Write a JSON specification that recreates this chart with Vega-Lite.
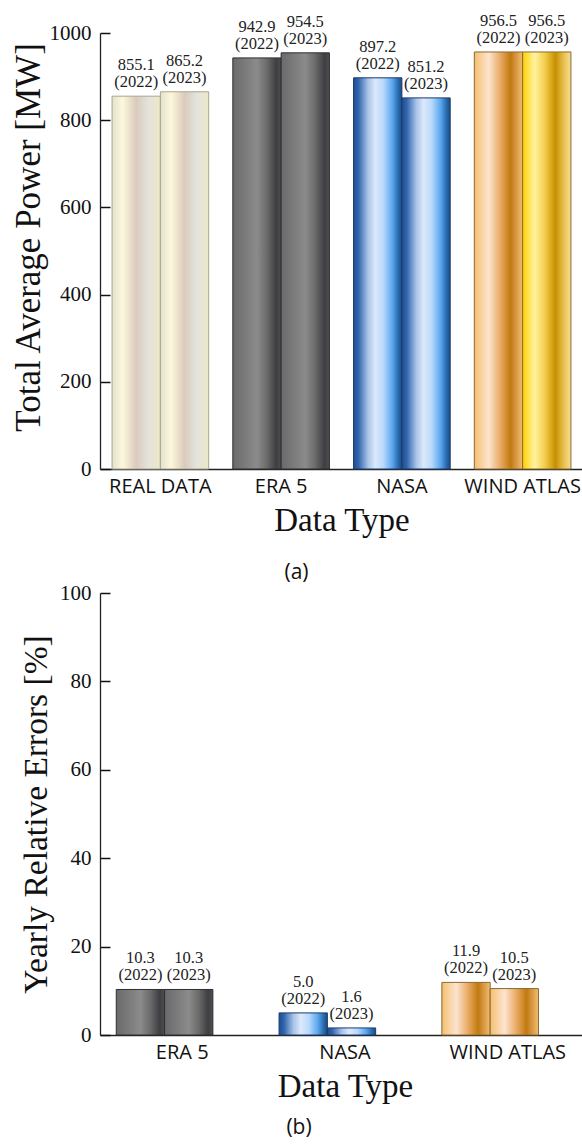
{
  "$schema": "https://vega.github.io/schema/vega-lite/v6.json",
  "padding": {"left": 10, "top": 12, "right": 0, "bottom": 0},
  "spacing": -1,
  "config": {
    "view": {"stroke": null},
    "axis": {"domainColor": "#222", "tickColor": "#111", "labelColor": "#111", "titleColor": "#111", "grid": false, "titleFontWeight": "normal", "domainWidth": 1.3, "tickWidth": 1.5},
    "title": {"color": "#111"}
  },
  "datasets": {
    "power": [
      {"type": "REAL DATA", "year": "2022", "value": 855.1, "label": "855.1\n(2022)"},
      {"type": "REAL DATA", "year": "2023", "value": 865.2, "label": "865.2\n(2023)"},
      {"type": "ERA 5", "year": "2022", "value": 942.9, "label": "942.9\n(2022)"},
      {"type": "ERA 5", "year": "2023", "value": 954.5, "label": "954.5\n(2023)"},
      {"type": "NASA", "year": "2022", "value": 897.2, "label": "897.2\n(2022)"},
      {"type": "NASA", "year": "2023", "value": 851.2, "label": "851.2\n(2023)"},
      {"type": "WIND ATLAS", "year": "2022", "value": 956.5, "label": "956.5\n(2022)"},
      {"type": "WIND ATLAS", "year": "2023", "value": 956.5, "label": "956.5\n(2023)"}
    ],
    "errors": [
      {"type": "ERA 5", "year": "2022", "value": 10.3, "label": "10.3\n(2022)"},
      {"type": "ERA 5", "year": "2023", "value": 10.3, "label": "10.3\n(2023)"},
      {"type": "NASA", "year": "2022", "value": 5.0, "label": "5.0\n(2022)"},
      {"type": "NASA", "year": "2023", "value": 1.6, "label": "1.6\n(2023)"},
      {"type": "WIND ATLAS", "year": "2022", "value": 11.9, "label": "11.9\n(2022)"},
      {"type": "WIND ATLAS", "year": "2023", "value": 10.5, "label": "10.5\n(2023)"}
    ]
  },
  "vconcat": [
    {
      "width": 483,
      "height": 436,
      "data": {"name": "power"},
      "title": {"text": "(a)", "orient": "bottom", "anchor": "middle", "frame": "group", "dx": -45, "font": "Open Sans", "fontSize": 21, "fontWeight": "normal", "offset": 25},
      "encoding": {
        "x": {"field": "type", "type": "nominal", "sort": ["REAL DATA", "ERA 5", "NASA", "WIND ATLAS"],
          "scale": {"paddingInner": 0.2, "paddingOuter": 0.1},
          "axis": {"title": "Data Type", "labelAngle": 0, "labelFont": "Open Sans", "labelFontSize": 20, "labelPadding": 7, "ticks": false, "titleFont": "Liberation Serif", "titleFontSize": 33, "titlePadding": 8}},
        "xOffset": {"field": "year", "type": "nominal", "scale": {"paddingInner": 0, "paddingOuter": 0}},
        "y": {"field": "value", "type": "quantitative", "scale": {"domain": [0, 1000]},
          "axis": {"title": "Total Average Power [MW]", "values": [0, 200, 400, 600, 800, 1000], "format": "d", "tickSize": -10, "labelFont": "Liberation Serif", "labelFontSize": 21, "labelPadding": 19, "titleFont": "Liberation Serif", "titleFontSize": 35, "titleX": -54, "titleY": 204}}
      },
      "layer": [
        {"transform": [{"filter": "datum.type === 'REAL DATA'"}],
         "mark": {"type": "bar", "stroke": "#aaa68c", "strokeWidth": 1,
           "color": {"gradient": "linear", "x1": 0, "y1": 0, "x2": 1, "y2": 0, "stops": [
             {"offset": 0, "color": "#e3e1d0"}, {"offset": 0.22, "color": "#fdf8dc"}, {"offset": 0.5, "color": "#d9cbbd"}, {"offset": 0.75, "color": "#e3e3dc"}, {"offset": 1, "color": "#ece8c8"}]}}},
        {"transform": [{"filter": "datum.type === 'ERA 5'"}],
         "mark": {"type": "bar", "stroke": "#2e2e30", "strokeWidth": 1,
           "color": {"gradient": "linear", "x1": 0, "y1": 0, "x2": 1, "y2": 0, "stops": [
             {"offset": 0, "color": "#6a6a6c"}, {"offset": 0.5, "color": "#8b8b8b"}, {"offset": 0.7, "color": "#6c6c6c"}, {"offset": 0.9, "color": "#3e3e42"}, {"offset": 1, "color": "#505052"}]}}},
        {"transform": [{"filter": "datum.type === 'NASA'"}],
         "mark": {"type": "bar", "stroke": "#1a3a6a", "strokeWidth": 1,
           "color": {"gradient": "linear", "x1": 0, "y1": 0, "x2": 1, "y2": 0, "stops": [
             {"offset": 0, "color": "#1c4e96"}, {"offset": 0.1, "color": "#3264ac"}, {"offset": 0.3, "color": "#a8c4e8"}, {"offset": 0.45, "color": "#dce9fb"}, {"offset": 0.62, "color": "#b8d8fb"}, {"offset": 0.8, "color": "#5aa8ee"}, {"offset": 0.92, "color": "#2a6cb0"}, {"offset": 1, "color": "#1a4c80"}]}}},
        {"transform": [{"filter": "datum.type === 'WIND ATLAS' && datum.year === '2022'"}],
         "mark": {"type": "bar", "stroke": "#8a6a30", "strokeWidth": 1,
           "color": {"gradient": "linear", "x1": 0, "y1": 0, "x2": 1, "y2": 0, "stops": [
             {"offset": 0, "color": "#f4c070"}, {"offset": 0.3, "color": "#fde4d0"}, {"offset": 0.55, "color": "#e8a860"}, {"offset": 0.75, "color": "#c07a10"}, {"offset": 0.9, "color": "#e0a050"}, {"offset": 1, "color": "#f0c070"}]}}},
        {"transform": [{"filter": "datum.type === 'WIND ATLAS' && datum.year === '2023'"}],
         "mark": {"type": "bar", "stroke": "#8a6a30", "strokeWidth": 1,
           "color": {"gradient": "linear", "x1": 0, "y1": 0, "x2": 1, "y2": 0, "stops": [
             {"offset": 0, "color": "#ffd000"}, {"offset": 0.25, "color": "#fff3a0"}, {"offset": 0.45, "color": "#f5d050"}, {"offset": 0.68, "color": "#c89000"}, {"offset": 0.85, "color": "#e8c050"}, {"offset": 1, "color": "#f8e090"}]}}},
        {"mark": {"type": "text", "font": "Liberation Serif", "fontSize": 16.5, "baseline": "bottom", "lineBreak": "\n", "lineHeight": 17, "dy": -23, "color": "#222"},
         "encoding": {"text": {"field": "label"}}}
      ]
    },
    {
      "width": 490,
      "height": 442,
      "data": {"name": "errors"},
      "title": {"text": "(b)", "orient": "bottom", "anchor": "middle", "frame": "group", "dx": -46, "font": "Open Sans", "fontSize": 21, "fontWeight": "normal", "offset": 14},
      "encoding": {
        "x": {"field": "type", "type": "nominal", "sort": ["ERA 5", "NASA", "WIND ATLAS"],
          "scale": {"paddingInner": 0.19, "paddingOuter": 0.1},
          "axis": {"title": "Data Type", "labelAngle": 0, "labelFont": "Open Sans", "labelFontSize": 20, "labelPadding": 7, "ticks": false, "titleFont": "Liberation Serif", "titleFontSize": 33, "titlePadding": 8}},
        "xOffset": {"field": "year", "type": "nominal", "scale": {"paddingInner": 0, "paddingOuter": 0}},
        "y": {"field": "value", "type": "quantitative", "scale": {"domain": [0, 100]},
          "axis": {"title": "Yearly Relative Errors [%]", "values": [0, 20, 40, 60, 80, 100], "format": "d", "tickSize": -10, "labelFont": "Liberation Serif", "labelFontSize": 21, "labelPadding": 19, "titleFont": "Liberation Serif", "titleFontSize": 33.5, "titleX": -47}}
      },
      "layer": [
        {"transform": [{"filter": "datum.type === 'ERA 5'"}],
         "mark": {"type": "bar", "stroke": "#2e2e30", "strokeWidth": 1,
           "color": {"gradient": "linear", "x1": 0, "y1": 0, "x2": 1, "y2": 0, "stops": [
             {"offset": 0, "color": "#6a6a6c"}, {"offset": 0.5, "color": "#8b8b8b"}, {"offset": 0.7, "color": "#6c6c6c"}, {"offset": 0.9, "color": "#3e3e42"}, {"offset": 1, "color": "#505052"}]}}},
        {"transform": [{"filter": "datum.type === 'NASA'"}],
         "mark": {"type": "bar", "stroke": "#1a3a6a", "strokeWidth": 1,
           "color": {"gradient": "linear", "x1": 0, "y1": 0, "x2": 1, "y2": 0, "stops": [
             {"offset": 0, "color": "#1c4e96"}, {"offset": 0.1, "color": "#3264ac"}, {"offset": 0.3, "color": "#a8c4e8"}, {"offset": 0.45, "color": "#dce9fb"}, {"offset": 0.62, "color": "#b8d8fb"}, {"offset": 0.8, "color": "#5aa8ee"}, {"offset": 0.92, "color": "#2a6cb0"}, {"offset": 1, "color": "#1a4c80"}]}}},
        {"transform": [{"filter": "datum.type === 'WIND ATLAS'"}],
         "mark": {"type": "bar", "stroke": "#8a6a30", "strokeWidth": 1,
           "color": {"gradient": "linear", "x1": 0, "y1": 0, "x2": 1, "y2": 0, "stops": [
             {"offset": 0, "color": "#f4c070"}, {"offset": 0.3, "color": "#fde4d0"}, {"offset": 0.55, "color": "#e8a860"}, {"offset": 0.75, "color": "#c07a10"}, {"offset": 0.9, "color": "#e0a050"}, {"offset": 1, "color": "#f0c070"}]}}},
        {"mark": {"type": "text", "font": "Liberation Serif", "fontSize": 16.5, "baseline": "bottom", "lineBreak": "\n", "lineHeight": 17, "dy": -23, "color": "#222"},
         "encoding": {"text": {"field": "label"}}}
      ]
    }
  ]
}
